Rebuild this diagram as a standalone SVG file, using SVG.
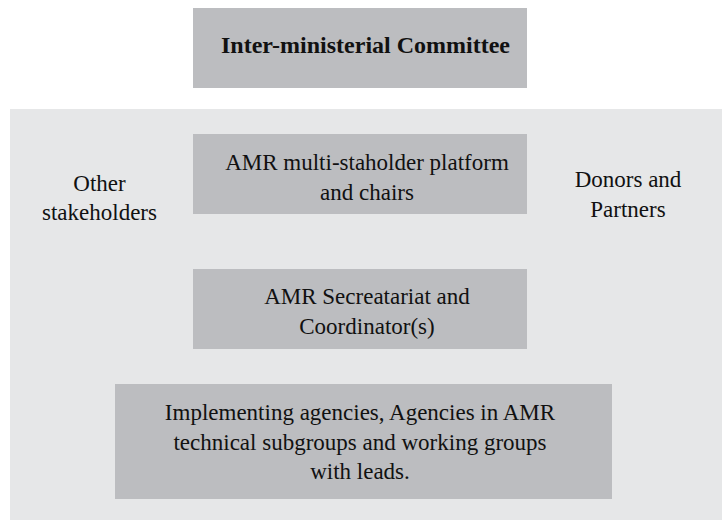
<svg xmlns="http://www.w3.org/2000/svg" width="722" height="520" viewBox="0 0 722 520">
<style>
.bg{fill:#e6e7e8}
.box{fill:#bcbdc0}
text{font-family:'Liberation Serif','DejaVu Serif','Noto Serif',serif;font-size:23px;fill:#111;text-anchor:middle}
.b{font-weight:bold;font-size:24px}
</style>
<rect width="722" height="520" fill="#ffffff"/>
<g id="committee">
<rect class="box" x="193" y="8" width="334" height="80"/>
<text class="b" x="365.5" y="53">Inter-ministerial Committee</text>
</g>
<g id="area">
<rect class="bg" x="10" y="109" width="712" height="411"/>
</g>
<g id="other-stakeholders">
<text x="99.5" y="191">Other</text>
<text x="99.5" y="220">stakeholders</text>
</g>
<g id="donors">
<text x="628" y="187">Donors and</text>
<text x="628" y="217">Partners</text>
</g>
<g id="platform">
<rect class="box" x="193" y="134" width="334" height="80"/>
<text x="367" y="170">AMR multi-staholder platform</text>
<text x="367" y="200">and chairs</text>
</g>
<g id="secretariat">
<rect class="box" x="193" y="269" width="334" height="80"/>
<text x="367" y="304">AMR Secreatariat and</text>
<text x="367" y="334">Coordinator(s)</text>
</g>
<g id="implementing">
<rect class="box" x="115" y="384" width="497" height="115"/>
<text x="360" y="420">Implementing agencies, Agencies in AMR</text>
<text x="360" y="450">technical subgroups and working groups</text>
<text x="360" y="479">with leads.</text>
</g>
<g id="connectors"></g>
</svg>
